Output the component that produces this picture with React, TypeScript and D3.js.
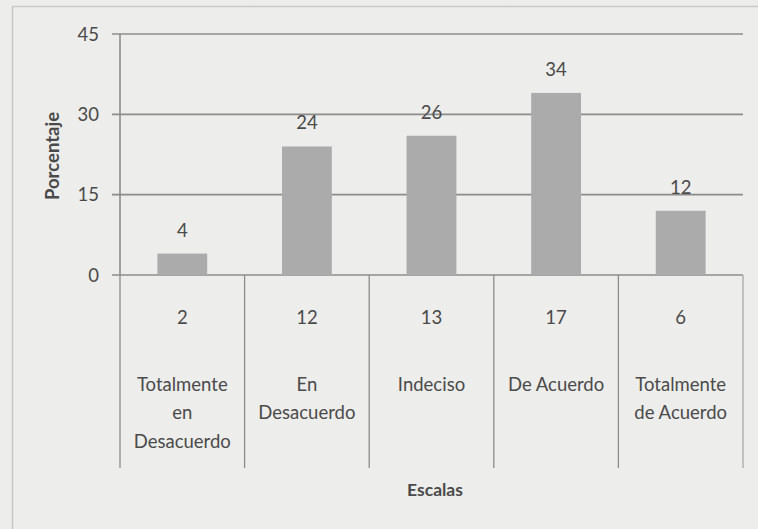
import React from "react";
import * as d3 from "d3";

// Survey results by response scale
const categories: string[][] = [
  ["Totalmente", "en", "Desacuerdo"],
  ["En", "Desacuerdo"],
  ["Indeciso"],
  ["De Acuerdo"],
  ["Totalmente", "de Acuerdo"],
];
const percentages: number[] = [4, 24, 26, 34, 12];
const counts: number[] = [2, 12, 13, 17, 6];
const yTicks: number[] = [0, 15, 30, 45];

const W = 758;
const H = 529;
const FONT = "Lato, 'Open Sans', sans-serif";
const TEXT = "#4a4a4a";

export default function App() {
  const keys = categories.map((_, i) => String(i));
  const x = d3.scaleBand<string>().domain(keys).range([120, 743]).paddingInner(0).paddingOuter(0);
  const bar = d3.scaleBand<string>().domain(keys).range([120, 743]).paddingInner(0.6).paddingOuter(0.3);
  const y = d3.scaleLinear().domain([0, 45]).range([275, 34]);
  const tableBottom = 468;
  const mid = (i: number) => x(keys[i])! + x.bandwidth() / 2;

  return (
    <svg
      width={W}
      height={H}
      viewBox={`0 0 ${W} ${H}`}
      style={{ position: "absolute", left: 0, top: 0, display: "block" }}
      fontFamily={FONT}
    >
      <rect x={0} y={0} width={W} height={H} fill="#ededeb" />
      {/* chart frame */}
      <rect x={12.5} y={6.5} width={W + 20} height={H + 20} fill="none" stroke="#a4a4a4" strokeWidth={1.5} strokeDasharray="1 1" />

      {/* gridlines and y ticks */}
      {yTicks.map((t) => (
        <g key={t}>
          <line x1={112} x2={743} y1={y(t)} y2={y(t)} stroke="#8c8c8c" strokeWidth={1.6} />
          <text x={99} y={y(t)} dy="0.36em" textAnchor="end" fontSize={18.5} fill={TEXT}>
            {t}
          </text>
        </g>
      ))}

      {/* bars */}
      {percentages.map((v, i) => (
        <rect
          key={i}
          x={bar(keys[i])!}
          y={y(v)}
          width={bar.bandwidth()}
          height={y(0) - y(v)}
          fill="#ababab"
        />
      ))}

      {/* value labels */}
      {percentages.map((v, i) => (
        <text key={i} x={mid(i)} y={y(v) - 17} textAnchor="middle" fontSize={18.5} fill={TEXT}>
          {v}
        </text>
      ))}

      {/* y axis */}
      <line x1={120} x2={120} y1={34} y2={275} stroke="#8c8c8c" strokeWidth={1.6} />

      {/* data table dividers */}
      {keys.concat(["end"]).map((k, i) => {
        const xx = i < keys.length ? x(k)! : 743;
        return (
          <line
            key={k}
            x1={xx}
            x2={xx}
            y1={275}
            y2={tableBottom}
            stroke={i === keys.length ? "#a8a8a8" : "#8c8c8c"}
            strokeWidth={1.3}
          />
        );
      })}

      {/* counts row */}
      {counts.map((c, i) => (
        <text key={i} x={mid(i)} y={317} dy="0.36em" textAnchor="middle" fontSize={18.5} fill={TEXT}>
          {c}
        </text>
      ))}

      {/* category names */}
      {categories.map((lines, i) => (
        <text key={i} x={mid(i)} y={384} textAnchor="middle" fontSize={18.5} fill={TEXT}>
          {lines.map((l, j) => (
            <tspan key={j} x={mid(i)} dy={j === 0 ? "0.36em" : 28.5}>
              {l}
            </tspan>
          ))}
        </text>
      ))}

      {/* axis titles */}
      <text
        transform={`translate(52,156) rotate(-90)`}
        textAnchor="middle"
        dy="0.36em"
        fontSize={18.5}
        fontWeight="bold"
        fill={TEXT}
      >
        Porcentaje
      </text>
      <text x={435} y={490} dy="0.36em" textAnchor="middle" fontSize={17.5} fontWeight="bold" fill={TEXT}>
        Escalas
      </text>
    </svg>
  );
}
